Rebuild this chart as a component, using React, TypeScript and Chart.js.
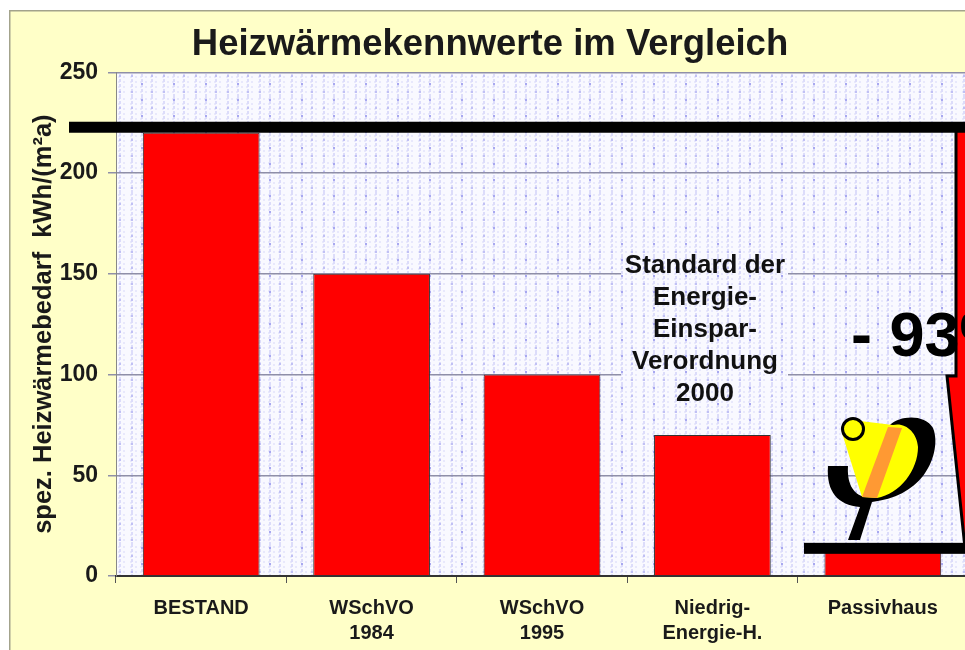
import React, { useEffect, useRef } from "react";
import { Chart, registerables } from "chart.js";

Chart.register(...registerables);

const categories = [["BESTAND"], ["WSchVO", "1984"], ["WSchVO", "1995"], ["Niedrig-", "Energie-H."], ["Passivhaus"]];
const heatDemand = [220, 150, 100, 70, 15];
const yTicks = [0, 50, 100, 150, 200, 250];
const titleText = "Heizwärmekennwerte im Vergleich";
const yAxisTitle = "spez. Heizwärmebedarf  kWh/(m²a)";
const noteLines = ["Standard der", "Energie-", "Einspar-", "Verordnung", "2000"];
const savingLabel = "- 93%";
const referenceLevels = [220, 11];

const FONT = '"Liberation Sans", Arial, sans-serif';

function makePattern(ctx: CanvasRenderingContext2D) {
  const t = document.createElement("canvas");
  t.width = 32;
  t.height = 32;
  const c = t.getContext("2d") as CanvasRenderingContext2D;
  c.fillStyle = "#f9f9ff";
  c.fillRect(0, 0, 32, 32);
  c.fillStyle = "#e8e8fc";
  for (let x = 2; x < 32; x += 5) for (let y = 2; y < 32; y += 5) c.fillRect(x, y, 2, 2);
  c.fillStyle = "#dcdcfa";
  for (const x of [3, 13, 23]) for (let y = 0; y < 32; y += 5) c.fillRect(x, y, 2, 3);
  c.fillStyle = "#a8a8f0";
  for (const y of [3, 19]) c.fillRect(13, y, 2, 2);
  c.fillStyle = "#c0c0f4";
  for (const [x, y] of [[3, 11], [23, 11], [3, 27], [23, 27]]) c.fillRect(x, y, 2, 2);
  return ctx.createPattern(t, "repeat") as CanvasPattern;
}

function drawLogo(c: CanvasRenderingContext2D) {
  c.fillStyle = "#000";
  c.beginPath();
  c.moveTo(890, 425);
  c.bezierCurveTo(900, 415, 925, 414, 933, 428);
  c.bezierCurveTo(939, 443, 933, 463, 923, 476);
  c.bezierCurveTo(912, 490, 895, 499, 872, 502);
  c.lineTo(860, 540);
  c.lineTo(848, 540);
  c.lineTo(860, 507);
  c.bezierCurveTo(838, 505, 826, 492, 828, 466);
  c.lineTo(848, 466);
  c.bezierCurveTo(847, 482, 852, 494, 865, 497);
  c.lineTo(893, 470);
  c.closePath();
  c.fill();

  c.fillStyle = "#ffff00";
  c.beginPath();
  c.moveTo(842, 433);
  c.lineTo(860, 421);
  c.lineTo(893, 425);
  c.bezierCurveTo(905, 422, 917, 432, 918, 447);
  c.bezierCurveTo(918, 470, 900, 494, 877, 498);
  c.lineTo(862, 497);
  c.closePath();
  c.fill();

  c.fillStyle = "#ff9933";
  c.beginPath();
  c.moveTo(888, 427);
  c.lineTo(902, 428);
  c.lineTo(877, 498);
  c.lineTo(862, 497);
  c.closePath();
  c.fill();

  c.beginPath();
  c.arc(853, 429, 10.5, 0, Math.PI * 2);
  c.fillStyle = "#ffff00";
  c.fill();
  c.lineWidth = 3;
  c.strokeStyle = "#000";
  c.stroke();
}

const panelPlugin = {
  id: "panel",
  beforeDraw(chart: any) {
    const c = chart.ctx as CanvasRenderingContext2D;
    const a = chart.chartArea;
    c.save();
    c.fillStyle = "#ffffff";
    c.fillRect(0, 0, chart.width, chart.height);
    c.fillStyle = "#ffffc8";
    c.fillRect(9, 10, chart.width, chart.height);
    c.fillStyle = "#a3a38c";
    c.fillRect(9, 10, chart.width, 1.5);
    c.fillRect(9, 10, 1.5, chart.height);
    c.fillStyle = makePattern(c);
    c.fillRect(a.left, a.top, a.right - a.left, a.bottom - a.top);
    c.restore();
  },
  afterDatasetsDraw(chart: any) {
    const c = chart.ctx as CanvasRenderingContext2D;
    const y = chart.scales.y;
    c.save();
    // patterned box behind the note
    c.fillStyle = makePattern(c);
    c.fillRect(621, 250, 167, 158);
    c.fillStyle = "#111";
    c.font = `bold 26px ${FONT}`;
    c.textAlign = "center";
    c.textBaseline = "middle";
    noteLines.forEach((l, i) => c.fillText(l, 705, 266 + i * 32));

    drawLogo(c);

    // block arrow
    c.beginPath();
    c.moveTo(956, 128);
    c.lineTo(985, 128);
    c.lineTo(985, 548);
    c.lineTo(965, 548);
    c.lineTo(947, 376);
    c.lineTo(956, 376);
    c.closePath();
    c.fillStyle = "#ff0000";
    c.fill();
    c.strokeStyle = "#000";
    c.lineWidth = 3;
    c.stroke();

    c.fillStyle = "#000";
    c.font = `bold 63px ${FONT}`;
    c.textAlign = "left";
    c.fillText(savingLabel, 851, 339);

    // reference lines
    c.fillStyle = "#000";
    c.fillRect(69, y.getPixelForValue(referenceLevels[0]) - 11, 900, 11);
    c.fillRect(804, y.getPixelForValue(referenceLevels[1]) - 11, 170, 11);
    c.restore();
  },
};

export default function App() {
  const ref = useRef<HTMLCanvasElement>(null);
  useEffect(() => {
    const chart = new Chart(ref.current as HTMLCanvasElement, {
      type: "bar",
      data: {
        labels: categories as any,
        datasets: [
          {
            data: heatDemand,
            backgroundColor: "#ff0000",
            borderColor: "#333333",
            borderWidth: 1,
            barPercentage: 0.685,
            categoryPercentage: 1,
          },
        ],
      },
      plugins: [panelPlugin],
      options: {
        animation: false,
        responsive: false,
        layout: { padding: { left: 12, right: 7, top: 0, bottom: 0 } },
        plugins: {
          legend: { display: false },
          tooltip: { enabled: false },
          title: {
            display: true,
            text: titleText,
            color: "#1a1a1a",
            font: { family: FONT, size: 36.5, weight: "bold", lineHeight: 1.2 },
            padding: { top: 23, bottom: 5.5 },
          },
        },
        scales: {
          x: {
            grid: { drawOnChartArea: false, color: "#555", tickLength: 7 },
            border: { color: "#333", width: 2 },
            ticks: {
              color: "#1a1a1a",
              font: { family: FONT, size: 20, weight: "bold", lineHeight: 1.25 },
              padding: 13,
              maxRotation: 0,
              autoSkip: false,
            },
            afterFit(s: any) {
              s.height = 74;
            },
          },
          y: {
            min: 0,
            max: 250,
            afterBuildTicks(s: any) {
              s.ticks = yTicks.map((value) => ({ value }));
            },
            grid: { color: "#8f8fa8", lineWidth: 1.5, tickLength: 8 },
            border: { color: "#888" },
            ticks: {
              color: "#1a1a1a",
              font: { family: FONT, size: 23, weight: "bold" },
              padding: 10,
            },
            title: {
              display: true,
              text: yAxisTitle,
              color: "#1a1a1a",
              font: { family: FONT, size: 25.5, weight: "bold" },
              padding: { top: 17, bottom: 0 },
            },
            afterFit(s: any) {
              s.width = 104;
            },
          },
        },
      } as any,
    });
    return () => chart.destroy();
  }, []);
  return (
    <div style={{ position: "absolute", left: 0, top: 0, width: 965, height: 650, overflow: "hidden", background: "#fff" }}>
      <canvas ref={ref} width={975} height={650} style={{ display: "block" }} />
    </div>
  );
}
